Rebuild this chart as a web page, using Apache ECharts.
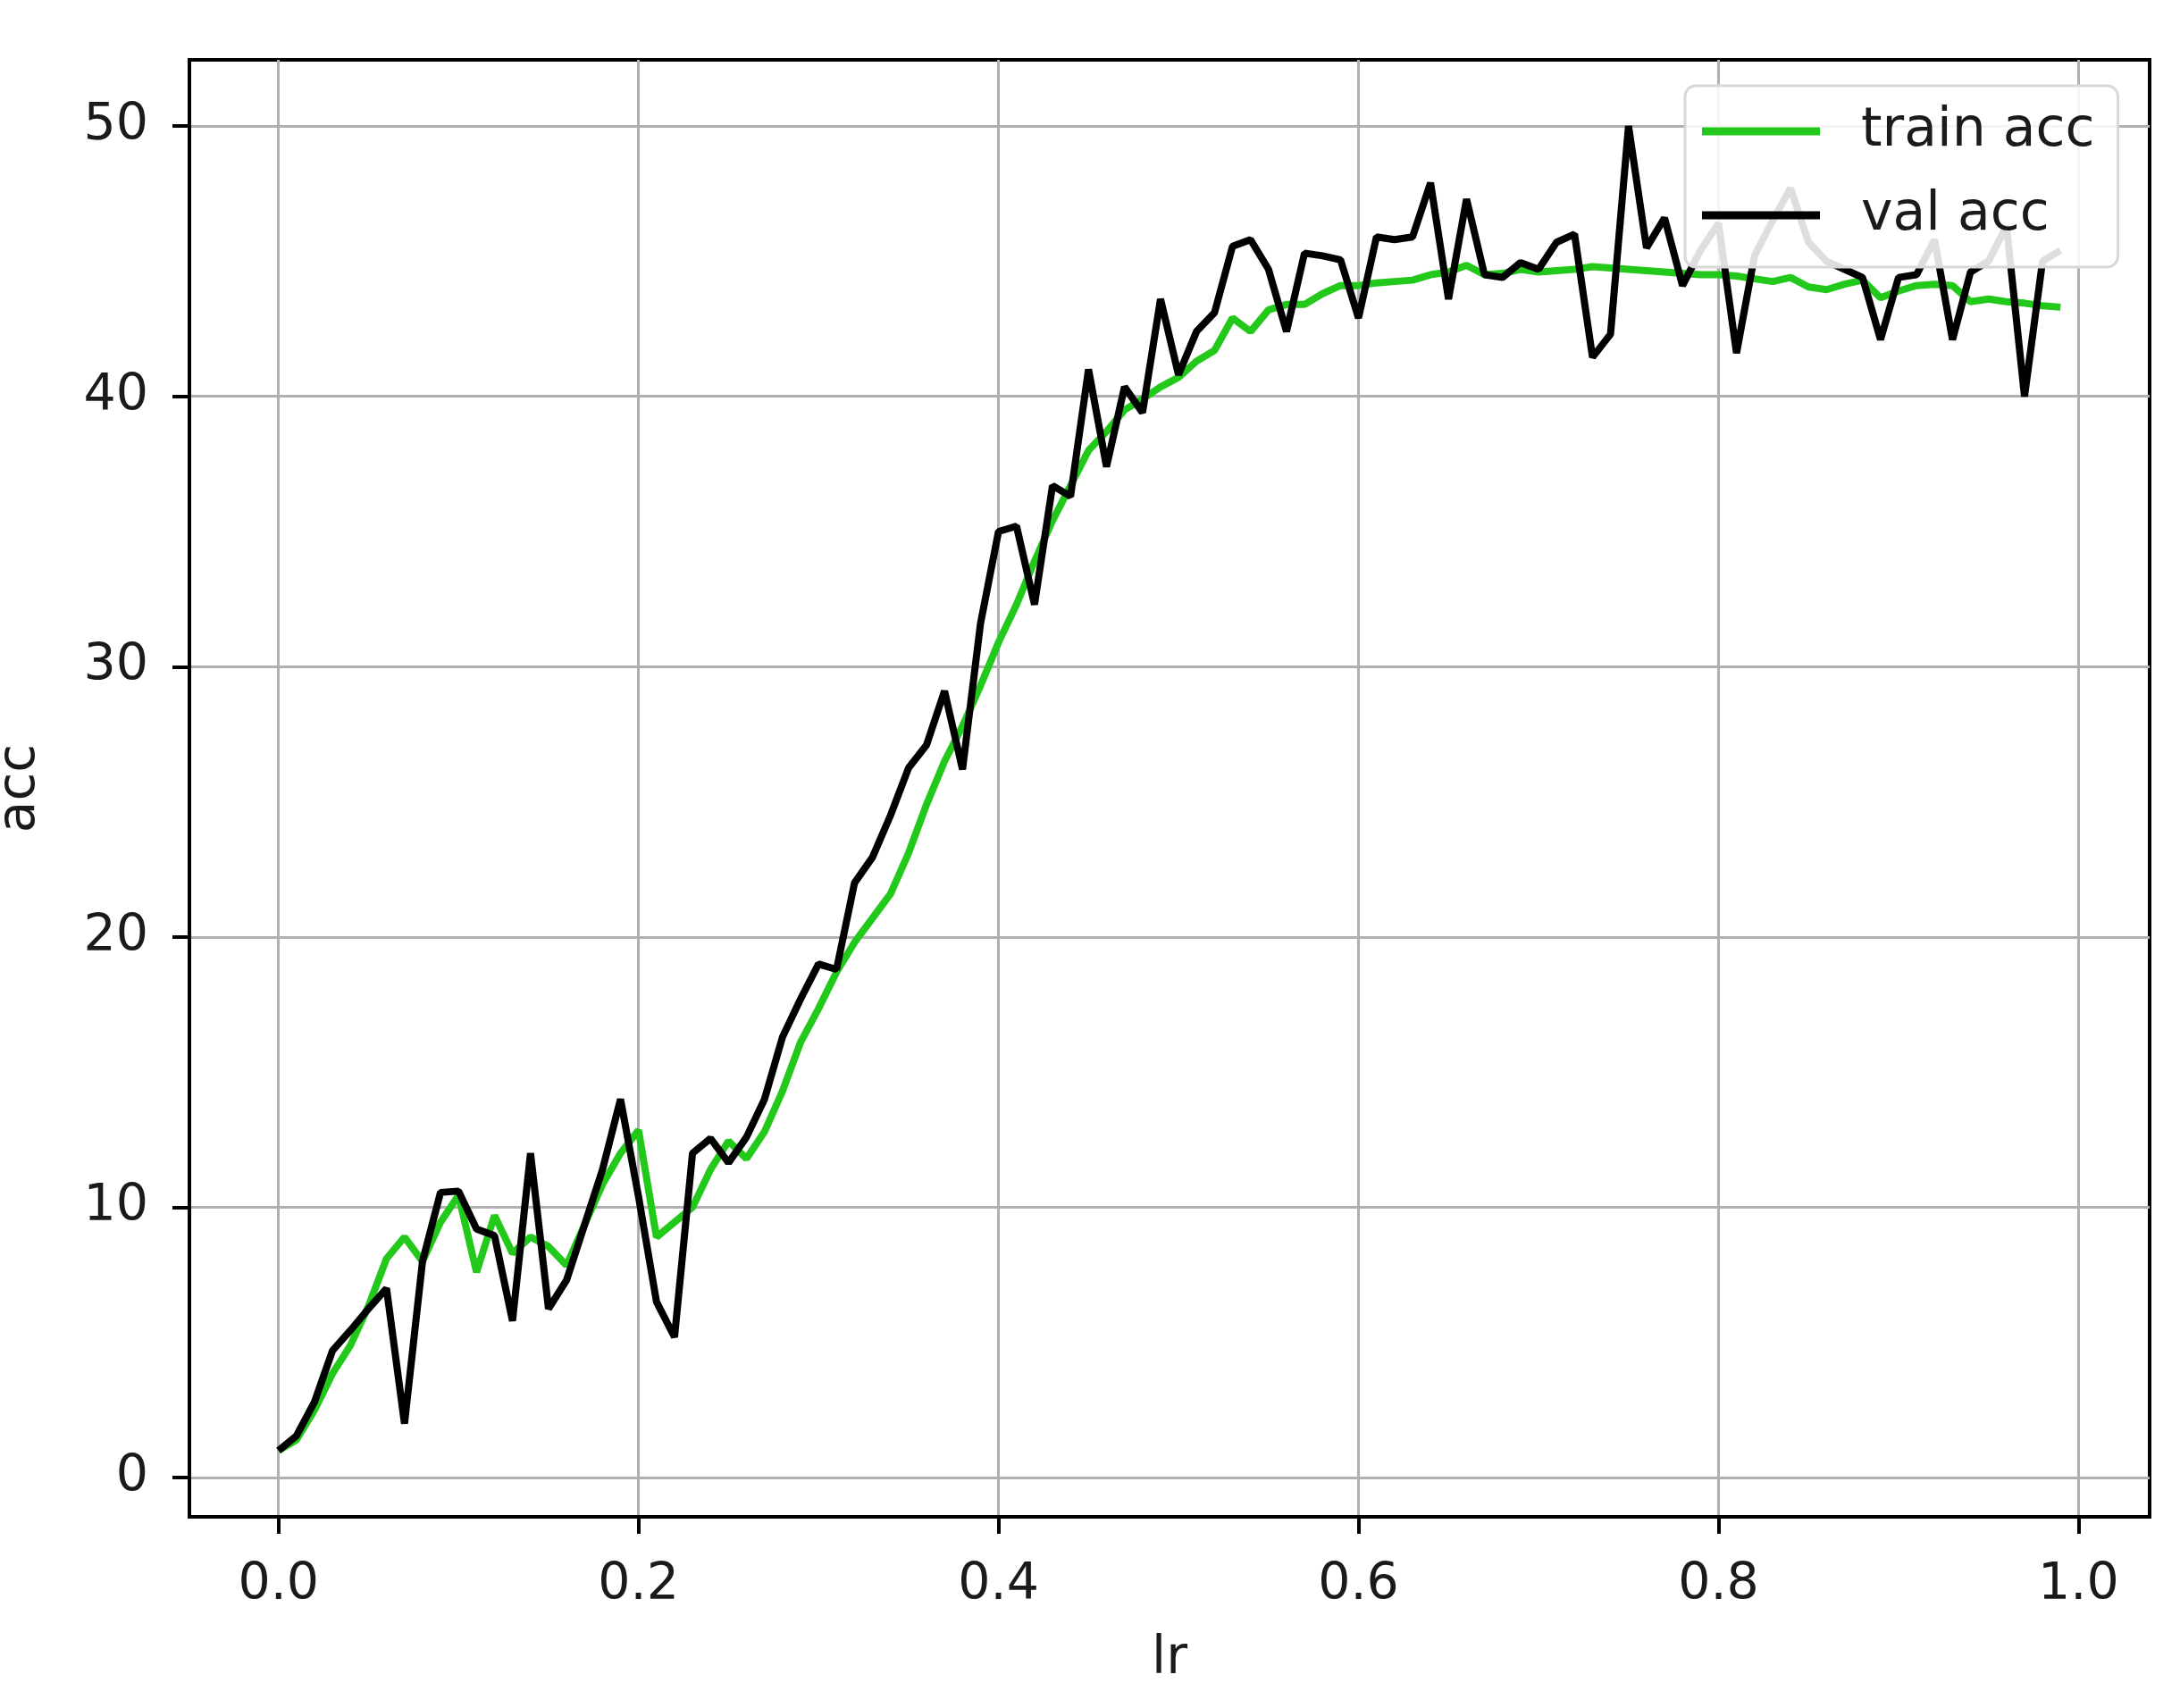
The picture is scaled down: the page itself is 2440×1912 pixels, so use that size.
<!DOCTYPE html>
<html>
<head>
<meta charset="utf-8">
<script src="https://cdn.jsdelivr.net/npm/echarts@6/dist/echarts.min.js"></script>
<style>
html,body{margin:0;padding:0;background:#fff;}
#chart{width:2440px;height:1912px;}
</style>
</head>
<body>
<div id="chart"></div>
<script>
const lr = [0.00,0.01,0.02,0.03,0.04,0.05,0.06,0.07,0.08,0.09,
            0.10,0.11,0.12,0.13,0.14,0.15,0.16,0.17,0.18,0.19,
            0.20,0.21,0.22,0.23,0.24,0.25,0.26,0.27,0.28,0.29,
            0.30,0.31,0.32,0.33,0.34,0.35,0.36,0.37,0.38,0.39,
            0.40,0.41,0.42,0.43,0.44,0.45,0.46,0.47,0.48,0.49,
            0.50,0.51,0.52,0.53,0.54,0.55,0.56,0.57,0.58,0.59,
            0.60,0.61,0.62,0.63,0.64,0.65,0.66,0.67,0.68,0.69,
            0.70,0.71,0.72,0.73,0.74,0.75,0.76,0.77,0.78,0.79,
            0.80,0.81,0.82,0.83,0.84,0.85,0.86,0.87,0.88,0.89,
            0.90,0.91,0.92,0.93,0.94,0.95,0.96,0.97,0.98,0.99];

const trainAcc = [1.0,1.4,2.5,3.85,4.9,6.35,8.1,8.9,8.0,9.45,
                  10.45,7.6,9.7,8.3,8.9,8.55,7.85,9.35,10.85,12.0,
                  12.85,8.9,9.45,10.0,11.4,12.45,11.8,12.8,14.3,16.1,
                  17.35,18.7,19.8,20.7,21.6,23.1,24.9,26.5,27.8,29.3,
                  30.9,32.3,33.9,35.4,36.7,38.0,38.7,39.5,39.9,40.35,
                  40.7,41.3,41.7,42.9,42.4,43.2,43.4,43.4,43.8,44.1,
                  44.1,44.2,44.25,44.3,44.5,44.6,44.85,44.5,44.55,44.7,
                  44.6,44.65,44.7,44.8,44.75,44.7,44.65,44.6,44.55,44.5,
                  44.5,44.45,44.35,44.25,44.4,44.05,43.95,44.15,44.3,43.65,
                  43.9,44.1,44.15,44.1,43.5,43.6,43.5,43.45,43.35,43.3];

const valAcc = [1.0,1.55,2.8,4.7,5.45,6.25,7.0,2.0,8.0,10.55,
                10.6,9.2,8.95,5.8,12.0,6.25,7.3,9.35,11.4,14.0,
                10.4,6.5,5.2,12.0,12.55,11.65,12.6,14.0,16.3,17.7,
                19.0,18.8,22.0,22.95,24.5,26.25,27.1,29.1,26.2,31.6,
                35.0,35.2,32.3,36.7,36.3,41.0,37.4,40.35,39.4,43.6,
                40.8,42.4,43.1,45.55,45.8,44.7,42.4,45.3,45.2,45.05,
                42.9,45.9,45.8,45.9,47.9,43.6,47.3,44.5,44.4,44.95,
                44.7,45.7,46.0,41.45,42.3,50.0,45.5,46.6,44.1,45.4,
                46.4,41.6,45.2,46.5,47.7,45.7,45.0,44.7,44.4,42.1,
                44.4,44.5,45.8,42.1,44.6,45.0,46.3,40.0,45.0,45.4];

const xTicks = [0.0, 0.2, 0.4, 0.6, 0.8, 1.0];
const yTicks = [0, 10, 20, 30, 40, 50];

const seriesNames = ['train acc', 'val acc'];
const seriesColors = ['#22c81a', '#000000'];

const FONT = 'DejaVu Sans';
const TXT = '#1a1a1a';

const chart = echarts.init(document.getElementById('chart'), null, {renderer: 'canvas'});

function pairs(xs, ys) { return xs.map((x, i) => [x, ys[i]]); }

chart.setOption({
  animation: false,
  backgroundColor: '#ffffff',
  grid: {
    left: 212, right: 34, top: 67, bottom: 214,
    outerBoundsMode: 'none', containLabel: false,
    show: true, borderColor: '#000', borderWidth: 4, backgroundColor: 'transparent'
  },
  legend: {
    orient: 'vertical',
    left: 1886, top: 96,
    z: 20,
    padding: [21, 26, 28, 19],
    itemGap: 34,
    itemWidth: 132, itemHeight: 9,
    icon: 'rect',
    backgroundColor: 'rgba(255,255,255,0.87)',
    borderColor: '#d8d8d8', borderWidth: 3, borderRadius: 12,
    textStyle: { fontFamily: FONT, fontSize: 60, color: TXT, lineHeight: 60, padding: [0, 0, 0, 41] },
    data: seriesNames
  },
  xAxis: {
    type: 'value',
    min: -0.0495, max: 1.0395,
    name: 'lr', nameLocation: 'middle', nameGap: 131,
    nameTextStyle: { fontFamily: FONT, fontSize: 58, color: TXT },
    axisLine: { show: true, onZero: false, lineStyle: { color: '#000', width: 4 } },
    axisTick: { show: true, inside: false, length: 19, customValues: xTicks, lineStyle: { color: '#000', width: 4 } },
    axisLabel: { customValues: xTicks, margin: 49, fontFamily: FONT, fontSize: 57, color: TXT,
                 formatter: v => v.toFixed(1) },
    splitLine: { show: true, lineStyle: { color: '#b0b0b0', width: 3 } }
  },
  yAxis: {
    type: 'value',
    min: -1.45, max: 52.45,
    name: 'acc', nameLocation: 'middle', nameGap: 160, nameRotate: 90,
    nameTextStyle: { fontFamily: FONT, fontSize: 58, color: TXT },
    axisLine: { show: true, onZero: false, lineStyle: { color: '#000', width: 4 } },
    axisTick: { show: true, inside: false, length: 19, customValues: yTicks, lineStyle: { color: '#000', width: 4 } },
    axisLabel: { customValues: yTicks, margin: 46, fontFamily: FONT, fontSize: 57, color: TXT },
    splitLine: { show: true, lineStyle: { color: '#b0b0b0', width: 3 } }
  },
  series: [
    {
      name: seriesNames[0], type: 'line', data: pairs(lr, trainAcc),
      showSymbol: false, symbol: 'none', z: 2,
      lineStyle: { color: seriesColors[0], width: 8 }, itemStyle: { color: seriesColors[0] }
    },
    {
      name: seriesNames[1], type: 'line', data: pairs(lr, valAcc),
      showSymbol: false, symbol: 'none', z: 3,
      lineStyle: { color: seriesColors[1], width: 8 }, itemStyle: { color: seriesColors[1] }
    }
  ]
});
</script>
</body>
</html>
